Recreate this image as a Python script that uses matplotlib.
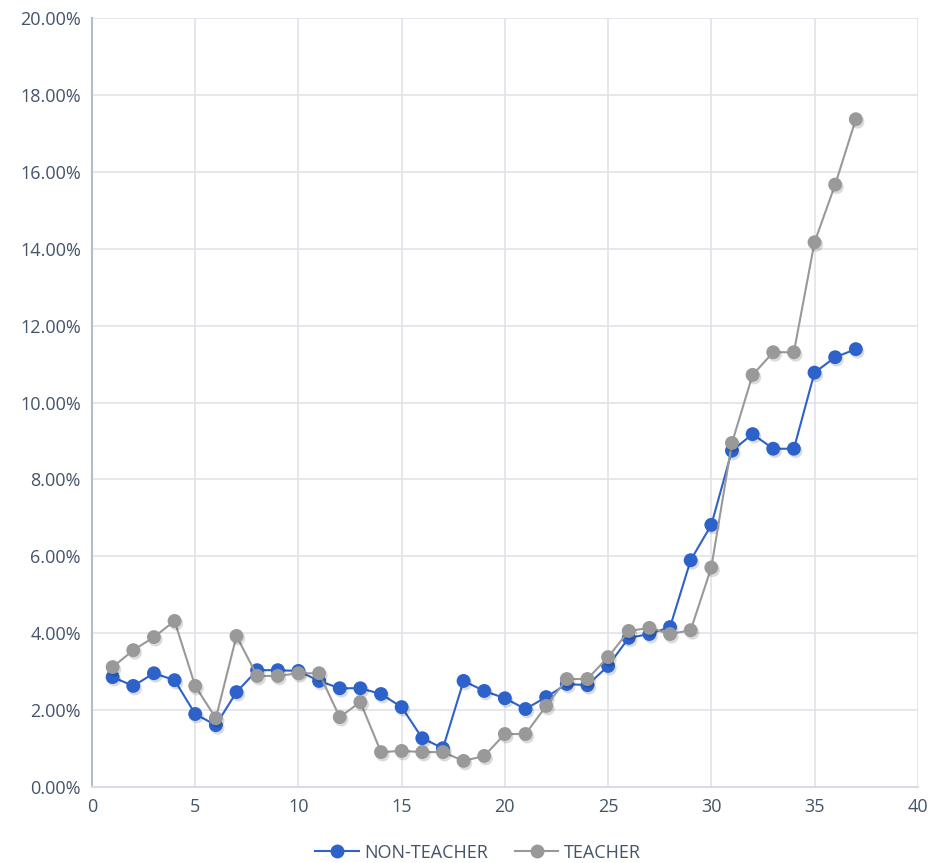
import matplotlib
matplotlib.use("Agg")
import matplotlib.pyplot as plt
import matplotlib.patheffects as pe
from matplotlib.lines import Line2D
from matplotlib.ticker import PercentFormatter, MultipleLocator

periods = list(range(1, 38))
non_teacher = [2.86, 2.63, 2.96, 2.78, 1.90, 1.61, 2.47, 3.04, 3.04, 3.02,
               2.76, 2.57, 2.57, 2.42, 2.08, 1.27, 1.01, 2.76, 2.50, 2.31,
               2.03, 2.34, 2.68, 2.65, 3.15, 3.88, 3.98, 4.16, 5.90, 6.82,
               8.75, 9.18, 8.80, 8.80, 10.78, 11.18, 11.39]
teacher = [3.12, 3.56, 3.90, 4.32, 2.63, 1.79, 3.93, 2.89, 2.89, 2.96,
           2.96, 1.82, 2.21, 0.91, 0.94, 0.91, 0.91, 0.68, 0.81, 1.38,
           1.38, 2.11, 2.81, 2.81, 3.38, 4.06, 4.14, 3.98, 4.08, 5.71,
           8.95, 10.72, 11.31, 11.31, 14.17, 15.67, 17.37]

series = [("NON-TEACHER", non_teacher, "#2c62c9"),
          ("TEACHER", teacher, "#999999")]

plt.rcParams['font.family'] = ['Open Sans', 'DejaVu Sans']
text_color = '#44546a'

fig = plt.figure(figsize=(9.32, 8.63), dpi=100)
ax = fig.add_axes([0.0987, 0.088, 0.886, 0.891])

shadow = [pe.SimplePatchShadow(offset=(1.2, -1.8), shadow_rgbFace='#000000', alpha=0.14),
          pe.Normal()]

handles = []
for z, (name, vals, col) in enumerate(series):
    ax.plot(periods, vals, color=col, lw=1.5, zorder=3 + 2 * z)
    ax.plot(periods, vals, linestyle='none', marker='o', markersize=10,
            markeredgewidth=0, color=col, zorder=4 + 2 * z, path_effects=shadow)
    handles.append(Line2D([], [], color=col, lw=1.5, marker='o', markersize=10,
                          markeredgewidth=0, label=name))

ax.set_xlim(0, 40)
ax.set_ylim(0, 20)
ax.xaxis.set_major_locator(MultipleLocator(5))
ax.yaxis.set_major_locator(MultipleLocator(2))
ax.yaxis.set_major_formatter(PercentFormatter(decimals=2))
ax.grid(True, color='#e2e3ea', lw=1.2)
ax.set_axisbelow(True)
ax.tick_params(length=0, labelsize=13, colors=text_color, pad=8)
for s in ('top', 'right'):
    ax.spines[s].set_visible(False)
ax.spines['left'].set_color('#b3bccd')
ax.spines['left'].set_linewidth(1.5)
ax.spines['bottom'].set_color('#d9dce4')
ax.spines['bottom'].set_linewidth(1.5)

fig.legend(handles=handles, loc='center', bbox_to_anchor=(0.513, 0.012), ncol=2,
           frameon=False, fontsize=13, labelcolor=text_color, handlelength=2.4,
           columnspacing=1.5, handletextpad=0.3)

fig.savefig('out.png', dpi=100)
